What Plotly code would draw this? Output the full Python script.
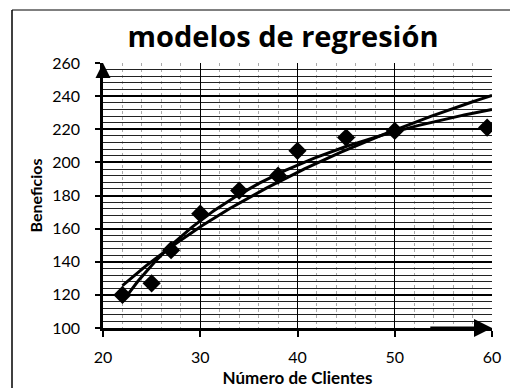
import numpy as np
import plotly.graph_objects as go

clientes = [22, 25, 27, 30, 34, 38, 40, 45, 50, 59.5]
beneficios = [120, 127, 147, 169, 183, 192, 207, 215, 219, 221]
x_ticks = [20, 30, 40, 50, 60]
y_ticks = [100, 120, 140, 160, 180, 200, 220, 240, 260]

xs = np.array(clientes, dtype=float)
ys = np.array(beneficios, dtype=float)
xc = np.linspace(22, 60, 200)

# logarithmic model: y = a ln(x) + b
a_log, b_log = np.polyfit(np.log(xs), ys, 1)
y_log = a_log * np.log(xc) + b_log
# reciprocal model: y = a + b / x
b_inv, a_inv = np.polyfit(1.0 / xs, ys, 1)
y_inv = a_inv + b_inv / xc

FONT = "Lato"

fig = go.Figure()
fig.add_trace(go.Scatter(x=xc, y=y_log, mode="lines",
                         line=dict(color="black", width=3), showlegend=False))
fig.add_trace(go.Scatter(x=xc, y=y_inv, mode="lines",
                         line=dict(color="black", width=3), showlegend=False))
fig.add_trace(go.Scatter(x=clientes, y=beneficios, mode="markers",
                         marker=dict(symbol="diamond", size=14, color="black"),
                         showlegend=False))

W, H = 510, 388
L, R, T, B = 103, 18, 63, 60
pw, ph = W - L - R, H - T - B

def px_x(p):
    return (p - L) / pw

def px_y(p):
    return (H - B - p) / ph

fig.update_layout(
    width=W, height=H,
    margin=dict(l=L, r=R, t=T, b=B),
    paper_bgcolor="white", plot_bgcolor="white",
    font=dict(family=FONT, color="black", size=16),
    title=dict(text="<b>modelos de regresión</b>", x=283 / W, xanchor="center",
               y=1 - 37 / H, yanchor="middle",
               font=dict(size=29, family="Open Sans", color="black")),
    xaxis=dict(range=[20, 60], tickvals=x_ticks, ticks="outside", ticklen=6,
               tickcolor="black", tickwidth=2, showgrid=True, gridcolor="black",
               gridwidth=1.2, showline=True, linecolor="black", linewidth=2.5,
               minor=dict(dtick=2, showgrid=True, gridcolor="#aaaaaa",
                          griddash="dot", gridwidth=1),
               tickfont=dict(size=16), ticklabelstandoff=7,
               title=dict(text="<b>Número de Clientes</b>", font=dict(size=17),
                          standoff=9),
               automargin=False,
               zeroline=False, fixedrange=True),
    yaxis=dict(range=[100, 260], tickvals=y_ticks, ticks="outside", ticklen=5,
               tickcolor="black", tickwidth=2, showgrid=True, gridcolor="black",
               gridwidth=1.5, showline=True, linecolor="black", linewidth=2.5,
               minor=dict(dtick=4, showgrid=True, gridcolor="#222222", gridwidth=1),
               tickfont=dict(size=16), ticklabelstandoff=12,
               title=dict(text="<b>Beneficios</b>", font=dict(size=16), standoff=6),
               automargin=False,
               zeroline=False, fixedrange=True),
    shapes=[
        dict(type="line", xref="paper", yref="paper",
             x0=px_x(12), x1=px_x(510), y0=px_y(10), y1=px_y(10),
             line=dict(color="black", width=1)),
        dict(type="line", xref="paper", yref="paper",
             x0=px_x(12), x1=px_x(12), y0=px_y(10), y1=px_y(388),
             line=dict(color="black", width=1.5)),
    ],
    annotations=[
        dict(x=20, y=260, ax=20, ay=250, xref="x", yref="y", axref="x", ayref="y",
             showarrow=True, arrowhead=2, arrowsize=1.2, arrowwidth=2.5,
             arrowcolor="black", text=""),
        dict(x=60, y=100, ax=53.5, ay=100, xref="x", yref="y", axref="x", ayref="y",
             showarrow=True, arrowhead=2, arrowsize=1.2, arrowwidth=3,
             arrowcolor="black", text=""),
    ],
)

fig.write_html("out.html")
